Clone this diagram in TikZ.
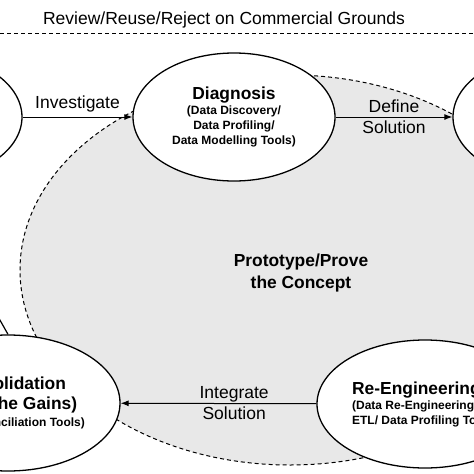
\documentclass[tikz,border=0pt]{standalone}
\usepackage{fontspec}
\setmainfont{Liberation Sans}
\usetikzlibrary{shapes.geometric,arrows.meta}

\definecolor{protogray}{HTML}{E8E8E8}
\newcommand{\lblfont}{\fontsize{17.5}{21}\selectfont}
\newcommand{\headfont}{\fontsize{17.4}{22}\selectfont\bfseries}

\begin{document}
\begin{tikzpicture}[x=1pt,y=-1pt,
	stage/.style={shape=ellipse,draw=black,line width=1.3pt,fill=white,inner sep=0pt,
		minimum width=202pt,minimum height=128pt,align=center,
		font=\fontsize{12}{15}\selectfont\bfseries},
	flow/.style={->,line width=1pt},
	dashline/.style={line width=1pt,dash pattern=on 4pt off 3pt},
	>={Latex[length=8pt,width=6pt]}]
	
	\useasboundingbox (0,0) rectangle (474,474);
	\clip (0,0) rectangle (474,474);
	
	% shaded prototype area
	\draw[dashline,fill=protogray] (290,270) ellipse [x radius=270,y radius=195];
	\node[font=\headfont,align=center] (proto) at (301,273) {Prototype/Prove\\the Concept};
	
	\node[font=\lblfont,anchor=base] (title) at (224,24) {Review/Reuse/Reject on Commercial Grounds};
	\draw[dashline] (0,33) -- (474,33);
	
	\node[stage] (scope)  at (-79,117) {};
	\node[stage] (diag)   at (234,117) {{\headfont Diagnosis}\\(Data Discovery/\\Data Profiling/\\Data Modelling Tools)};
	\node[stage] (design) at (554,117) {};
	\node[stage,minimum width=224pt,minimum height=136pt] (cons) at (8,403)
		{{\headfont Consolidation}\\[5pt]{\headfont (Bank the Gains)}\\[2pt](Data Reconciliation Tools)};
	\node[stage,minimum width=216pt,align=left] (reng) at (425,404)
		{{\headfont Re-Engineering}\\(Data Re-Engineering/\\ETL/ Data Profiling Tools)};
	\coordinate (offleft) at (-30,267);
	
	\path[flow] (scope) edge node[above,font=\lblfont,inner sep=4pt] {Investigate} (diag);
	\path[flow] (diag)  edge node[midway,font=\lblfont,align=center] {Define\\Solution} (design);
	\path[flow] (reng)  edge node[pos=0.42,font=\lblfont,align=center] {Integrate\\Solution} (cons);
	\draw[line width=1.2pt] (cons.north) -- (offleft);
	
\end{tikzpicture}
\end{document}
